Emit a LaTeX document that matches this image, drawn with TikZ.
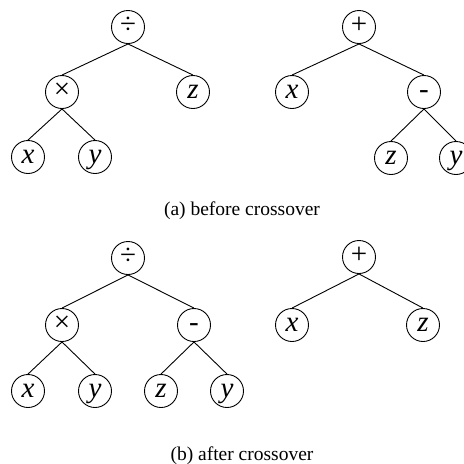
\documentclass[tikz,border=0pt]{standalone}
\usepackage{fontspec}
\setmainfont{Liberation Serif}
\begin{document}
\begin{tikzpicture}[x=1pt,y=-1pt,
  tnode/.style={draw, circle, line width=0.9pt, inner sep=0pt, minimum size=33pt,
    font=\fontsize{29}{29}\selectfont, text height=13pt, text depth=0pt},
  edge/.style={line width=0.9pt},
  caption/.style={anchor=base, inner sep=0pt, font=\fontsize{19.5}{22}\selectfont}]
\useasboundingbox (0,0) rectangle (464,464);
\clip (0,0) rectangle (464,464);

% (a) first parent: x*y / z
\node[tnode] (a1) at (128,27) {÷};
\node[tnode] (a2) at (62,92) {×};
\node[tnode] (a3) at (193,92) {\textit{z}};
\node[tnode] (a4) at (28,157) {\textit{x}};
\node[tnode] (a5) at (95,157) {\textit{y}};
\draw[edge] (a1.south) -- (a2.north);
\draw[edge] (a1.south) -- (a3.north);
\draw[edge] (a2.south) -- (a4.north);
\draw[edge] (a2.south) -- (a5.north);

% (a) second parent: x + (z - y)
\node[tnode] (b1) at (359,27) {+};
\node[tnode] (b2) at (292,92) {\textit{x}};
\node[tnode] (b3) at (424,92) {-};
\node[tnode] (b4) at (391,158) {\textit{z}};
\node[tnode] (b5) at (456,158) {\textit{y}};
\draw[edge] (b1.south) -- (b2.north);
\draw[edge] (b1.south) -- (b3.north);
\draw[edge] (b3.south) -- (b4.north);
\draw[edge] (b3.south) -- (b5.north);

\node[caption] (capa) at (242,215) {(a) before crossover};

% (b) first offspring: x*y / (z - y)
\node[tnode] (c1) at (128,258) {÷};
\node[tnode] (c2) at (62,325) {×};
\node[tnode] (c3) at (194,325) {-};
\node[tnode] (c4) at (28,391) {\textit{x}};
\node[tnode] (c5) at (95,391) {\textit{y}};
\node[tnode] (c6) at (161,391) {\textit{z}};
\node[tnode] (c7) at (227,391) {\textit{y}};
\draw[edge] (c1.south) -- (c2.north);
\draw[edge] (c1.south) -- (c3.north);
\draw[edge] (c2.south) -- (c4.north);
\draw[edge] (c2.south) -- (c5.north);
\draw[edge] (c3.south) -- (c6.north);
\draw[edge] (c3.south) -- (c7.north);

% (b) second offspring: x + z
\node[tnode] (d1) at (359,257) {+};
\node[tnode] (d2) at (292,325) {\textit{x}};
\node[tnode] (d3) at (423,325) {\textit{z}};
\draw[edge] (d1.south) -- (d2.north);
\draw[edge] (d1.south) -- (d3.north);

\node[caption] (capb) at (242,460) {(b) after crossover};
\end{tikzpicture}
\end{document}
